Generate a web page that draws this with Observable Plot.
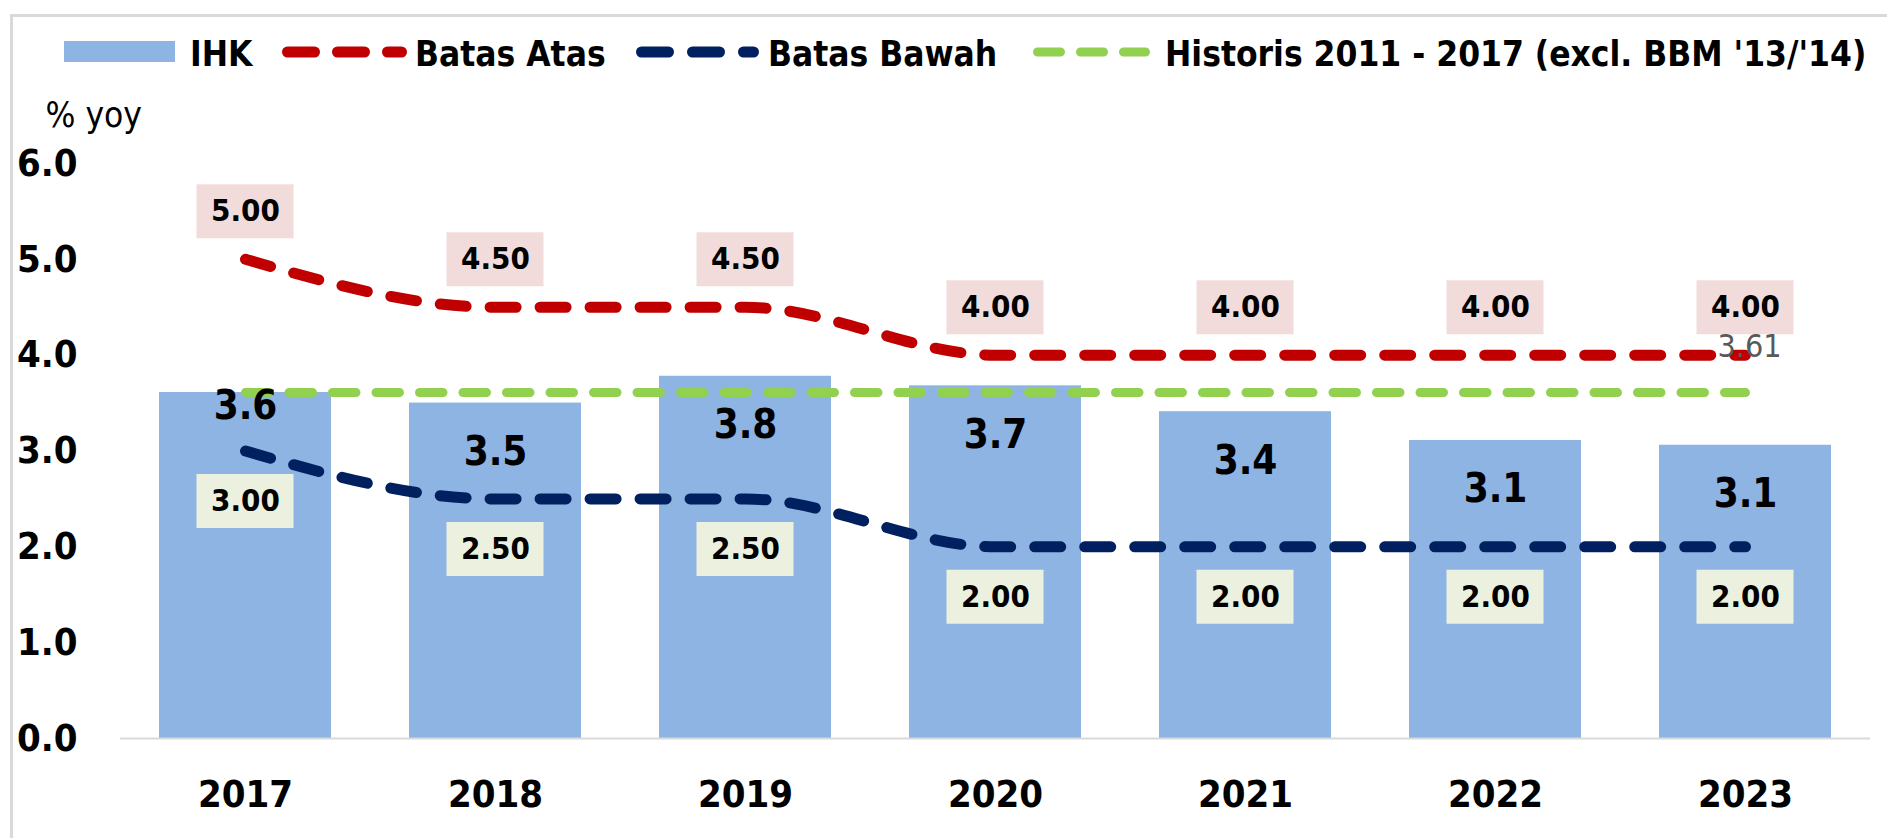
<!DOCTYPE html>
<html>
<head>
<meta charset="utf-8">
<script src="https://cdn.jsdelivr.net/npm/d3@7"></script>
<script src="https://cdn.jsdelivr.net/npm/@observablehq/plot@0.6"></script>
<style>
  html, body { margin: 0; padding: 0; background: #fff; overflow: hidden; }
  #wrap { position: relative; width: 1887px; height: 838px; overflow: hidden;
          font-family: "DejaVu Sans Condensed", "DejaVu Sans", sans-serif; }
  #frame { position: absolute; left: 10px; top: 14px; width: 1900px; height: 900px;
           border-top: 3px solid #d9d9d9; border-left: 3px solid #d9d9d9; box-sizing: border-box; }
  #legend { position: relative; height: 80px; }
  .lg { position: absolute; top: 54px; transform: translateY(-50%); white-space: nowrap;
        font-weight: bold; font-size: 35px; color: #000; line-height: 1; }
  .sw { position: absolute; }
  #chart { position: relative; }
  #chart svg text { font-family: "DejaVu Sans Condensed", "DejaVu Sans", sans-serif; }
</style>
</head>
<body>
<div id="wrap">
  <div id="frame"></div>
  <div id="legend"></div>
  <div id="chart"></div>
</div>
<script>
// ---- data ----
const years = ["2017", "2018", "2019", "2020", "2021", "2022", "2023"];
const ihk = [3.61, 3.50, 3.78, 3.68, 3.41, 3.11, 3.06];
const batasAtas = [5.00, 4.50, 4.50, 4.00, 4.00, 4.00, 4.00];
const batasBawah = [3.00, 2.50, 2.50, 2.00, 2.00, 2.00, 2.00];
const historis = [3.61, 3.61, 3.61, 3.61, 3.61, 3.61, 3.61];
const yTicks = [0, 1, 2, 3, 4, 5, 6];
const seriesNames = ["IHK", "Batas Atas", "Batas Bawah", "Historis 2011 - 2017 (excl. BBM '13/'14)"];
const colors = { ihk: "#8EB4E3", atas: "#C00000", bawah: "#002060", hist: "#92D050",
                 atasBox: "#F2DCDB", bawahBox: "#EBF1DE", grey: "#595959" };

const data = years.map((year, i) => ({
  year, ihk: ihk[i], atas: batasAtas[i], bawah: batasBawah[i], hist: historis[i], i
}));

// ---- legend ----
const legend = document.getElementById("legend");
function addText(txt, left) {
  const s = document.createElement("span");
  s.className = "lg"; s.style.left = left + "px"; s.textContent = txt;
  legend.appendChild(s);
}
function addDash(left, w, color, sw, dash) {
  const ns = "http://www.w3.org/2000/svg";
  const svg = document.createElementNS(ns, "svg");
  svg.setAttribute("width", w); svg.setAttribute("height", 20);
  svg.setAttribute("class", "sw");
  svg.style.left = left + "px"; svg.style.top = "42px";
  const l = document.createElementNS(ns, "line");
  l.setAttribute("x1", sw / 2); l.setAttribute("x2", w - sw / 2);
  l.setAttribute("y1", 10); l.setAttribute("y2", 10);
  l.setAttribute("stroke", color); l.setAttribute("stroke-width", sw);
  l.setAttribute("stroke-linecap", "round"); l.setAttribute("stroke-dasharray", dash);
  svg.appendChild(l); legend.appendChild(svg);
}
const box = document.createElement("div");
Object.assign(box.style, { position: "absolute", left: "64px", top: "41px", width: "111px", height: "21px", background: colors.ihk });
legend.appendChild(box);
addText(seriesNames[0], 190);
addDash(282, 125, colors.atas, 11, "27 23");
addText(seriesNames[1], 415);
addDash(636, 123, colors.bawah, 11, "27 24");
addText(seriesNames[2], 768);
addDash(1033, 117, colors.hist, 9, "23 20");
addText(seriesNames[3], 1165);

// ---- chart ----
const first = data.filter(d => d.i === 0);
const rest = data.filter(d => d.i !== 0);
const last = data.filter(d => d.i === data.length - 1);

const chart = Plot.plot({
  width: 1887,
  height: 758,
  marginLeft: 120,
  marginRight: 17,
  marginTop: 83,
  marginBottom: 100,
  x: { domain: years, paddingInner: 0.312, paddingOuter: 0.156, align: 0.5 },
  y: { domain: [0, 6] },
  marks: [
    Plot.barY(data, { x: "year", y: "ihk", fill: colors.ihk }),
    Plot.ruleY([0], { stroke: "#d9d9d9", strokeWidth: 2 }),
    Plot.axisY({ ticks: yTicks, tickFormat: d3.format(".1f"), tickSize: 0, tickPadding: 43,
                 fontSize: 38, fontWeight: "bold", label: null }),
    Plot.axisX({ tickSize: 0, tickPadding: 42, fontSize: 38, fontWeight: "bold", label: null }),
    Plot.text(["% yoy"], { frameAnchor: "top-left", dx: -75, dy: -48, textAnchor: "start",
                           lineAnchor: "middle", fontSize: 35, fontFamily: "DejaVu Sans" }),
    Plot.line(data, { x: "year", y: "hist", stroke: colors.hist, strokeWidth: 9,
                      strokeDasharray: "23.5 20", strokeLinecap: "round" }),
    Plot.line(data, { x: "year", y: "atas", stroke: colors.atas, strokeWidth: 11,
                      strokeDasharray: "26 24", strokeLinecap: "round", curve: "monotone-x" }),
    Plot.line(data, { x: "year", y: "bawah", stroke: colors.bawah, strokeWidth: 11,
                      strokeDasharray: "26 24", strokeLinecap: "round", curve: "monotone-x" }),
    // bar value labels
    Plot.text(first, { x: "year", y: "ihk", dy: 14, text: d => d.ihk.toFixed(1), fontSize: 40, fontWeight: "bold" }),
    Plot.text(rest, { x: "year", y: "ihk", dy: 49, text: d => d.ihk.toFixed(1), fontSize: 40, fontWeight: "bold" }),
    // upper bound labels
    Plot.tickY(data, { x: "year", y: "atas", dy: -48, stroke: colors.atasBox, strokeWidth: 54,
                       insetLeft: 37.5, insetRight: 37.5 }),
    Plot.text(data, { x: "year", y: "atas", dy: -48, text: d => d.atas.toFixed(2), fontSize: 31, fontWeight: "bold" }),
    // lower bound labels
    Plot.tickY(data, { x: "year", y: "bawah", dy: 50, stroke: colors.bawahBox, strokeWidth: 54,
                       insetLeft: 37.5, insetRight: 37.5 }),
    Plot.text(data, { x: "year", y: "bawah", dy: 50, text: d => d.bawah.toFixed(2), fontSize: 31, fontWeight: "bold" }),
    // historical label
    Plot.text(last, { x: "year", y: "hist", dx: 4, dy: -46, text: d => d.hist.toFixed(2),
                      fontSize: 32, fill: colors.grey, fontFamily: "DejaVu Sans" })
  ]
});
document.getElementById("chart").appendChild(chart);
</script>
</body>
</html>
